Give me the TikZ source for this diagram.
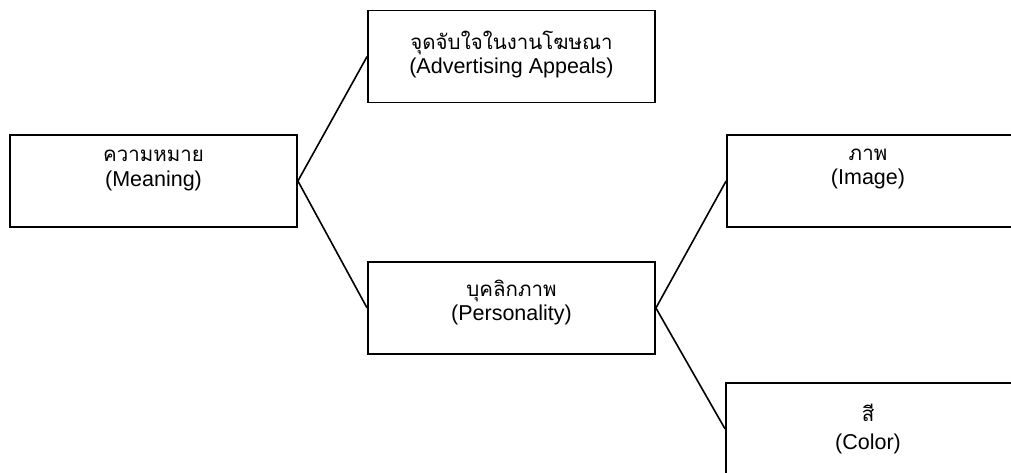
\documentclass[tikz,border=0pt]{standalone}
\usepackage{fontspec}
\setmainfont{Liberation Sans}
\newfontfamily\thaifont[Script=Thai]{Loma}
\begin{document}
\begin{tikzpicture}[x=1pt,y=-1pt,
  box/.style={draw=black,line width=1.8pt,rectangle,minimum width=287pt,minimum height=92pt,inner sep=0pt,fill=white},
  conn/.style={draw=black,line width=1.6pt},
  thl/.style={anchor=base,inner sep=0pt,font=\thaifont\fontsize{20.5}{24}\selectfont},
  enl/.style={anchor=base,inner sep=0pt,font=\fontsize{21.5}{26}\selectfont}]
\useasboundingbox (0,0) rectangle (1011,472);
\clip (0,0) rectangle (1011,472);
\node[box] (m) at (153.5,181) {};
\node[box] (a) at (511.5,56.5) {};
\node[box] (p) at (511.5,308) {};
\node[box] (i) at (870.5,181) {};
\node[box] (c) at (869.5,429) {};
\draw[conn] (m.east) -- (a.west);
\draw[conn] (m.east) -- (p.west);
\draw[conn] (p.east) -- (i.west);
\draw[conn] (p.east) -- (c.west);
\node[thl] (mt) at (153.5,161) {ความหมาย};
\node[enl] (me) at (153.5,186) {(Meaning)};
\node[thl] (at) at (511.5,49) {จุดจับใจในงานโฆษณา};
\node[enl] (ae) at (511.5,73.5) {(Advertising Appeals)};
\node[thl] (pt) at (511.5,296) {บุคลิกภาพ};
\node[enl] (pe) at (511.5,320.5) {(Personality)};
\node[thl] (it) at (868,160) {ภาพ};
\node[enl] (ie) at (868,184.5) {(Image)};
\node[thl] (ct) at (868,421) {สี};
\node[enl] (ce) at (868,449) {(Color)};
\end{tikzpicture}
\end{document}
